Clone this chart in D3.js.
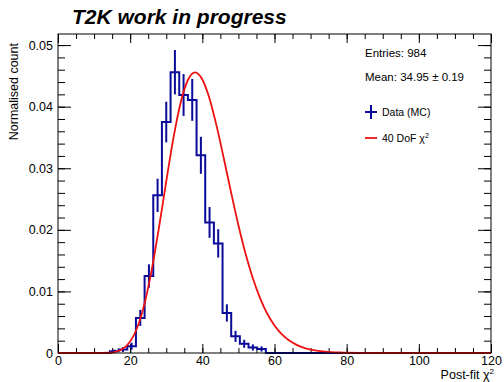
<!DOCTYPE html>
<html>
<head>
<meta charset="utf-8">
<script src="https://cdn.jsdelivr.net/npm/d3@7"></script>
<style>
  body { margin: 0; background: #fff; }
  text { font-family: "Liberation Sans", Arial, Helvetica, sans-serif; fill: #000; }
</style>
</head>
<body>
<svg width="504" height="382"></svg>
<script>
// histogram bins (lower edges), bin width 2.4
const binLo = [14.4, 16.8, 19.2, 21.6, 24, 26.4, 28.8, 31.2, 33.6, 36, 38.4, 40.8, 43.2, 45.6, 48, 50.4, 52.8, 55.2]
const binWidth = 2.4
const counts = [0.00028, 0.00056, 0.0011, 0.0057, 0.0125, 0.0256, 0.0375, 0.0456, 0.0419, 0.0411, 0.0321, 0.0212, 0.0178, 0.0065, 0.0027, 0.0015, 0.0009, 0.00065]
const errors = [0.00028, 0.0004, 0.00056, 0.0013, 0.0019, 0.0027, 0.0033, 0.0036, 0.0034, 0.0034, 0.0030, 0.0025, 0.0023, 0.0014, 0.0009, 0.00065, 0.0005, 0.00043]

// 40 dof chi2 curve
const chiX = [0, 10, 14, 16, 18, 20, 22, 24, 26, 28, 30, 32, 34, 36, 38, 40, 42, 44, 46, 48, 50, 52, 54, 56, 58, 60, 62, 64, 66, 68, 70, 74, 78, 84, 90, 120]
const chiY = [0, 0, 0.00004, 0.0002, 0.00069, 0.00187, 0.00419, 0.00807, 0.01358, 0.02042, 0.02788, 0.03494, 0.04068, 0.04433, 0.04557, 0.04442, 0.0413, 0.03676, 0.03146, 0.02599, 0.02075, 0.01608, 0.01213, 0.00892, 0.00638, 0.00447, 0.00306, 0.00206, 0.00136, 0.00088, 0.00056, 0.00022, 0.00008, 0.000015, 0, 0]

const xTicks = [0, 20, 40, 60, 80, 100, 120]
const yTicks = [0, 0.01, 0.02, 0.03, 0.04, 0.05]

const svg = d3.select("svg")
const padL = 58, padR = 491, padT = 34, padB = 353

const x = d3.scaleLinear().domain([0, 120]).range([padL, padR])
const y = d3.scaleLinear().domain([0, 0.0518]).range([padB, padT])

const fs = "12.5px"

// minor + major ticks on all four sides
const minorX = d3.range(0, 121, 5)
const minorY = d3.range(0, 0.0511, 0.002)

svg.append("g").attr("transform", `translate(0,${padB})`)
    .call(d3.axisBottom(x).tickValues(minorX).tickSize(-5).tickFormat(""))
svg.append("g").attr("transform", `translate(0,${padB})`)
    .call(d3.axisBottom(x).tickValues(xTicks).tickSize(-9).tickPadding(3).tickFormat(d3.format("d")))
    .selectAll("text").style("font-size", fs)
svg.append("g").attr("transform", `translate(0,${padT})`)
    .call(d3.axisTop(x).tickValues(minorX).tickSize(-5).tickFormat(""))
svg.append("g").attr("transform", `translate(0,${padT})`)
    .call(d3.axisTop(x).tickValues(xTicks).tickSize(-9).tickFormat(""))

svg.append("g").attr("transform", `translate(${padL},0)`)
    .call(d3.axisLeft(y).tickValues(minorY).tickSize(-7).tickFormat(""))
svg.append("g").attr("transform", `translate(${padL},0)`)
    .call(d3.axisLeft(y).tickValues(yTicks).tickSize(-13).tickPadding(5)
        .tickFormat(d => d === 0 ? "0" : d.toFixed(2)))
    .selectAll("text").style("font-size", fs)
svg.append("g").attr("transform", `translate(${padR},0)`)
    .call(d3.axisRight(y).tickValues(minorY).tickSize(-7).tickFormat(""))
svg.append("g").attr("transform", `translate(${padR},0)`)
    .call(d3.axisRight(y).tickValues(yTicks).tickSize(-13).tickFormat(""))

svg.selectAll(".domain").remove()
svg.selectAll(".tick line").attr("stroke", "#000").attr("stroke-width", 1)

// histogram step line over the full range
let steps = [[0, 0]]
binLo.forEach((lo, i) => {
    steps.push([lo, i > 0 ? counts[i - 1] : 0])
    steps.push([lo, counts[i]])
})
let lastHi = binLo[binLo.length - 1] + binWidth
steps.push([lastHi, counts[counts.length - 1]])
steps.push([lastHi, 0])
steps.push([120, 0])

let line = d3.line()
    .x((d) => x(d[0]))
    .y((d) => y(d[1]))

svg.append("path").datum(steps)
    .attr("d", line)
    .attr("fill", "none")
    .attr("stroke", "#0b0b9a")
    .attr("stroke-width", 2)

svg.append("g").selectAll("line")
    .data(binLo)
    .join("line")
    .attr("x1", (d) => x(d + binWidth / 2))
    .attr("x2", (d) => x(d + binWidth / 2))
    .attr("y1", (d, i) => y(counts[i] - errors[i]))
    .attr("y2", (d, i) => y(counts[i] + errors[i]))
    .attr("stroke", "#0b0b9a")
    .attr("stroke-width", 2)

// chi2 curve
let chiLine = d3.line()
    .x((d, i) => x(chiX[i]))
    .y((d) => y(d))
    .curve(d3.curveMonotoneX)

svg.append("path").datum(chiY)
    .attr("d", chiLine)
    .attr("fill", "none")
    .attr("stroke", "#ee1111")
    .attr("stroke-width", 1.8)

// frame
svg.append("rect")
    .attr("x", padL).attr("y", padT)
    .attr("width", padR - padL).attr("height", padB - padT)
    .attr("fill", "none").attr("stroke", "#000").attr("stroke-width", 1)

// titles
svg.append("text").attr("x", 72).attr("y", 24)
    .style("font-size", "21px").style("font-weight", "bold").style("font-style", "italic")
    .text("T2K work in progress")

svg.append("text")
    .attr("transform", "translate(18,43) rotate(-90)")
    .attr("text-anchor", "end")
    .style("font-size", fs)
    .text("Normalised count")

let xt = svg.append("text").attr("x", 494).attr("y", 379)
    .attr("text-anchor", "end").style("font-size", "12.5px")
xt.append("tspan").text("Post-fit χ")
xt.append("tspan").attr("dy", -5).style("font-size", "8px").text("2")

// stats + legend
svg.append("text").attr("x", 365).attr("y", 57).style("font-size", "11.5px").text("Entries: 984")
svg.append("text").attr("x", 365).attr("y", 81).style("font-size", "11.5px").text("Mean: 34.95 ± 0.19")

svg.append("line").attr("x1", 365).attr("x2", 377).attr("y1", 112).attr("y2", 112)
    .attr("stroke", "#0b0b9a").attr("stroke-width", 2)
svg.append("line").attr("x1", 371).attr("x2", 371).attr("y1", 105).attr("y2", 119)
    .attr("stroke", "#0b0b9a").attr("stroke-width", 2)
svg.append("text").attr("x", 382).attr("y", 116).style("font-size", "10.5px").text("Data (MC)")

svg.append("line").attr("x1", 365).attr("x2", 377).attr("y1", 138).attr("y2", 138)
    .attr("stroke", "#ee1111").attr("stroke-width", 1.8)
let lt = svg.append("text").attr("x", 382).attr("y", 142).style("font-size", "10.5px")
lt.append("tspan").text("40 DoF χ")
lt.append("tspan").attr("dy", -4).style("font-size", "7px").text("2")
</script>
</body>
</html>
